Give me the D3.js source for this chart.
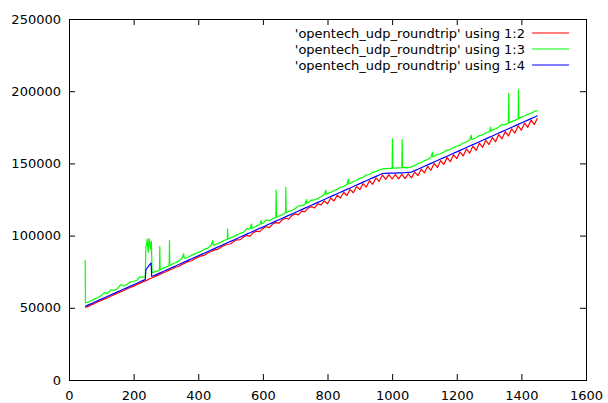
<!DOCTYPE html>
<html>
<head>
<meta charset="utf-8">
<script src="https://cdn.jsdelivr.net/npm/d3@7"></script>
<style>
  body { margin: 0; background: #fff; }
  text { font-family: "DejaVu Sans", sans-serif; font-size: 13px; fill: #000; }
</style>
</head>
<body>
<div id="chart"></div>
<script>
// packet size (x) and the three columns of 'opentech_udp_roundtrip'
var sizes = [50, 60, 70, 80, 90, 100, 110, 120, 130, 140, 150, 160, 170, 180, 190, 200, 210, 220, 230, 240,
  250, 260, 270, 280, 290, 300, 310, 320, 330, 340, 350, 360, 370, 380, 390, 400, 410, 420, 430, 440,
  450, 460, 470, 480, 490, 500, 510, 520, 530, 540, 550, 560, 570, 580, 590, 600, 610, 620, 630, 640,
  650, 660, 670, 680, 690, 700, 710, 720, 730, 740, 750, 760, 770, 780, 790, 800, 810, 820, 830, 840,
  850, 860, 870, 880, 890, 900, 910, 920, 930, 940, 950, 960, 970, 980, 990, 1000, 1010, 1020, 1030, 1040,
  1050, 1060, 1070, 1080, 1090, 1100, 1110, 1120, 1130, 1140, 1150, 1160, 1170, 1180, 1190, 1200, 1210, 1220, 1230, 1240,
  1250, 1260, 1270, 1280, 1290, 1300, 1310, 1320, 1330, 1340, 1350, 1360, 1370, 1380, 1390, 1400, 1410, 1420, 1430, 1440, 1450];

// using 1:2 (red)
var col2 = [50200, 51000, 52200, 53100, 54200, 55100, 56200, 57000, 58200, 59100, 60100, 61200, 62000, 63200, 64100, 65000, 66200, 67100, 68100, 69000,
  70100, 71000, 72100, 73000, 74100, 75000, 76100, 77000, 78100, 78600, 80100, 81000, 82100, 82600, 84100, 85100, 86000, 86500, 88100, 89000,
  90100, 90400, 92000, 93100, 94000, 94200, 96000, 97100, 97200, 99000, 100100, 99600, 102000, 103100, 102700, 105000, 106100, 105500, 108000, 109000,
  108600, 111000, 112000, 111400, 114000, 115000, 114300, 117000, 116600, 119000, 120000, 119200, 122000, 121300, 124000, 122000, 126000, 124000, 128000, 126000,
  130000, 127800, 132000, 129700, 134000, 131800, 136000, 133600, 138000, 135500, 140000, 137600, 142000, 139000, 142200, 139200, 142300, 139300, 142500, 139500,
  142800, 140000, 144000, 141500, 146000, 143400, 148000, 145300, 150000, 147200, 152000, 149300, 154000, 151200, 156000, 153300, 158000, 155200, 160000, 157100,
  162000, 159000, 164000, 161100, 166000, 163000, 168000, 165000, 170000, 167000, 172000, 169000, 174000, 171000, 176000, 173000, 178000, 175000, 180000, 177000, 181500];

// using 1:3 (green)
var col3 = [83000, 53900, 55000, 56200, 57000, 58500, 60500, 60000, 62500, 62100, 63200, 66000, 65100, 66300, 68000, 68200, 69100, 71500, 71200, 94000,
  95500, 74500, 75200, 76200, 77300, 78200, 79200, 80300, 81200, 82500, 84500, 84300, 85200, 86500, 87300, 88400, 89200, 90600, 91300, 93500,
  93400, 94500, 95300, 96600, 97500, 98500, 99300, 100600, 101500, 102300, 104800, 104600, 105400, 106700, 107600, 108500, 110800, 110400, 111500, 112600,
  113600, 114500, 115800, 116700, 117500, 118800, 120500, 120700, 121600, 122800, 124600, 124700, 125800, 126900, 128500, 128900, 130000, 131200, 132000, 133500,
  134000, 135600, 136100, 137500, 138300, 139800, 140200, 141900, 142300, 143800, 144500, 145300, 146200, 146400, 146600, 146600, 146700, 146900, 147000, 147200,
  147000, 147600, 148500, 149800, 150600, 151900, 152700, 154200, 154800, 156300, 156700, 157900, 159200, 159600, 161000, 161900, 162700, 164100, 164800, 166200,
  166900, 167800, 169300, 169700, 171200, 171800, 173100, 173800, 175200, 176900, 176800, 178000, 178900, 179800, 181000, 181900, 182800, 184000, 184700, 186000, 186500];

// using 1:4 (blue)
var col4 = [51000, 52000, 53000, 54000, 55000, 56000, 57000, 58000, 59000, 60000, 61000, 62000, 63000, 64000, 65000, 66000, 67000, 68000, 69000, 77000,
  80000, 72000, 73000, 74000, 75000, 76000, 77000, 78000, 79000, 80000, 81000, 82000, 83000, 84000, 85000, 86000, 87000, 88000, 89000, 90000,
  91000, 92000, 93000, 94000, 95000, 96000, 97000, 98000, 99000, 100000, 101000, 102000, 103000, 104000, 105000, 106000, 107000, 108000, 109000, 110000,
  111000, 112000, 113000, 114000, 115000, 116000, 117000, 118000, 119000, 120000, 121000, 122000, 123000, 124000, 125000, 126000, 127000, 128000, 129000, 130000,
  131000, 132000, 133000, 134000, 135000, 136000, 137000, 138000, 139000, 140000, 141000, 142000, 143000, 143100, 143200, 143300, 143300, 143400, 143500, 143600,
  143800, 144000, 145000, 146000, 147000, 148000, 149000, 150000, 151000, 152000, 153000, 154000, 155000, 156000, 157000, 158000, 159000, 160000, 161000, 162000,
  163000, 164000, 165000, 166000, 167000, 168000, 169000, 170000, 171000, 172000, 173000, 174000, 175000, 176000, 177000, 178000, 179000, 180000, 181000, 182000, 183000];

// single-size outliers: [size, value]
var col3Extra = [[51, 53500],
  [236, 71400], [238, 92000], [242, 97500], [245, 88500], [248, 98000], [253, 90500], [255, 96000], [257, 74300],
  [281, 92500], [282, 76300], [311, 96500], [312, 79300],
  [355, 87500], [356, 84600], [445, 96500], [446, 93600], [491, 104500], [492, 97600],
  [565, 108000], [566, 105000], [595, 110500], [596, 108000],
  [641, 131500], [642, 112700], [671, 133500], [672, 115900],
  [735, 125000], [736, 122300], [795, 131500], [796, 128800], [865, 139000], [866, 136000],
  [1001, 167000], [1002, 146700], [1031, 166500], [1032, 147000],
  [1125, 157800], [1126, 154500], [1245, 169500], [1246, 166500], [1305, 175000], [1306, 172000],
  [1361, 198500], [1362, 178100], [1391, 201000], [1392, 181100]];
var col4Extra = [[236, 69600], [238, 76500], [254, 81000], [256, 71800]];
var col2Extra = [];

var xTicks = [0, 200, 400, 600, 800, 1000, 1200, 1400, 1600];
var yTicks = [0, 50000, 100000, 150000, 200000, 250000];

var seriesNames = ["'opentech_udp_roundtrip' using 1:2", "'opentech_udp_roundtrip' using 1:3", "'opentech_udp_roundtrip' using 1:4"];
var seriesColors = ["#ff0000", "#00ff00", "#0000ff"];

var svgWidth = 608, svgHeight = 403;
var plotLeft = 69, plotRight = 586, plotTop = 19, plotBottom = 380;

var svg = d3.select("#chart").append("svg")
    .attr("width", svgWidth)
    .attr("height", svgHeight);

var x = d3.scaleLinear().domain([0, 1600]).range([plotLeft, plotRight]);
var y = d3.scaleLinear().domain([0, 250000]).range([plotBottom, plotTop]);

// axes, ticks point inward like gnuplot
svg.append("g")
    .attr("transform", "translate(0," + plotBottom + ")")
    .call(d3.axisBottom(x).tickValues(xTicks).tickSize(-6).tickPadding(8).tickFormat(d3.format("d")))
    .call(function(g) { g.select(".domain").remove(); g.selectAll("text").attr("dy", "0.9em"); });

svg.append("g")
    .attr("transform", "translate(0," + plotTop + ")")
    .call(d3.axisTop(x).tickValues(xTicks).tickSize(-6).tickFormat(""))
    .call(function(g) { g.select(".domain").remove(); });

svg.append("g")
    .attr("transform", "translate(" + plotLeft + ",0)")
    .call(d3.axisLeft(y).tickValues(yTicks).tickSize(-6).tickPadding(8).tickFormat(d3.format("d")))
    .call(function(g) { g.select(".domain").remove(); });

svg.append("g")
    .attr("transform", "translate(" + plotRight + ",0)")
    .call(d3.axisRight(y).tickValues(yTicks).tickSize(-6).tickFormat(""))
    .call(function(g) { g.select(".domain").remove(); });

svg.selectAll(".tick line").attr("stroke", "#000");
svg.selectAll(".tick text").style("font-size", "13px").style("font-family", "DejaVu Sans, sans-serif").attr("fill", "#000");

// border
svg.append("rect")
    .attr("x", plotLeft + 0.5)
    .attr("y", plotTop + 0.5)
    .attr("width", plotRight - plotLeft)
    .attr("height", plotBottom - plotTop)
    .attr("fill", "none")
    .attr("stroke", "#000")
    .attr("stroke-width", 1);

var line = d3.line()
    .x(function(d) { return x(d[0]); })
    .y(function(d) { return y(d[1]); });

// merge the regular samples with the single outliers, sorted by size
function toPoints(values, extra) {
    var pts = sizes.map(function(s, j) { return [s, values[j]]; }).concat(extra);
    pts.sort(function(a, b) { return a[0] - b[0]; });
    return pts;
}

[[col2, col2Extra], [col3, col3Extra], [col4, col4Extra]].forEach(function(s, i) {
    svg.append("path")
        .datum(toPoints(s[0], s[1]))
        .attr("d", line)
        .attr("fill", "none")
        .attr("stroke", seriesColors[i])
        .attr("stroke-width", 1.2)
        .attr("stroke-linejoin", "round");
});

// legend
var legend = svg.append("g");
seriesNames.forEach(function(name, i) {
    var ly = 33 + i * 16;
    legend.append("text")
        .attr("x", 525)
        .attr("y", ly)
        .attr("dy", "0.35em")
        .attr("text-anchor", "end")
        .text(name);
    legend.append("line")
        .attr("x1", 532).attr("x2", 569)
        .attr("y1", ly).attr("y2", ly)
        .attr("stroke", seriesColors[i])
        .attr("stroke-width", 1.2);
});
</script>
</body>
</html>
